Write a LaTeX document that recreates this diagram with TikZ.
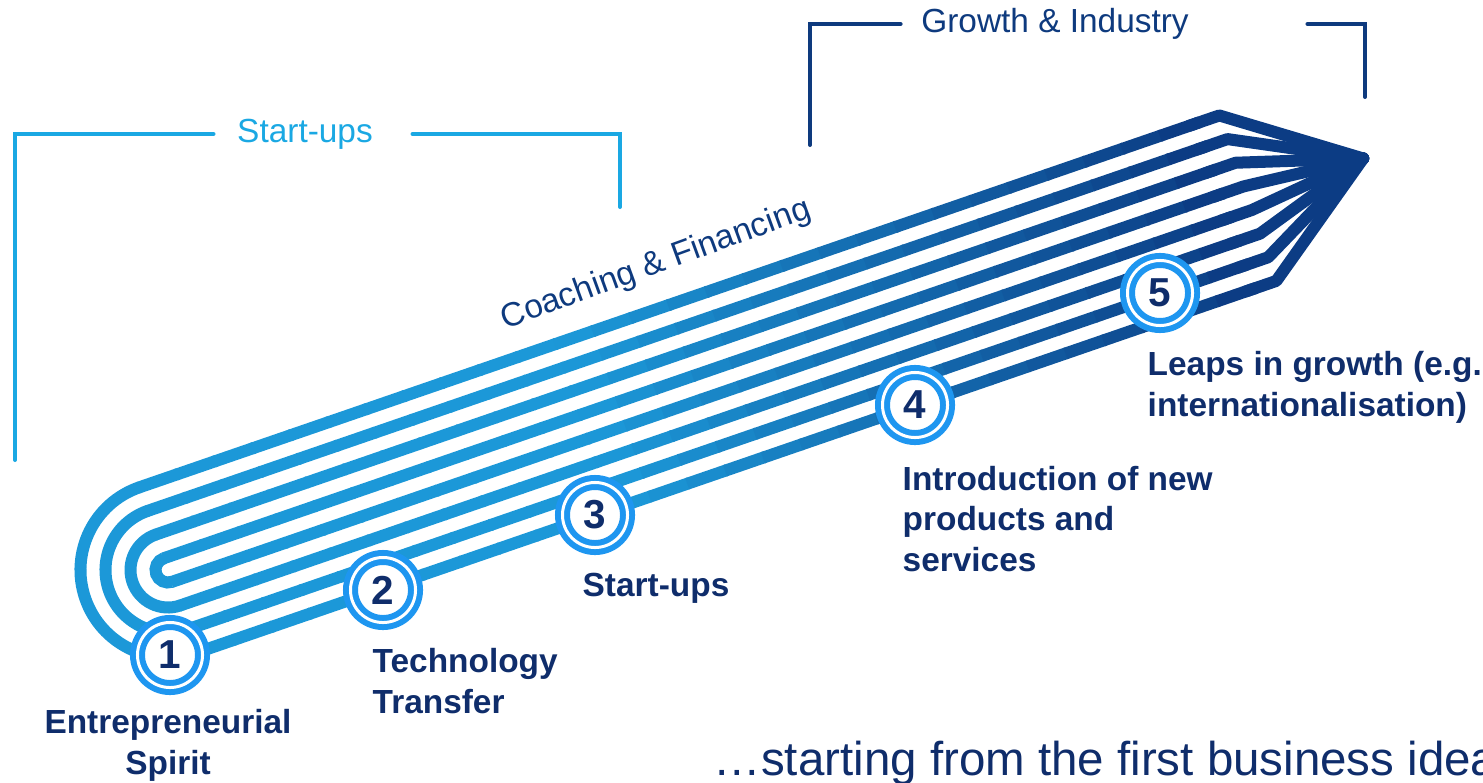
\documentclass[tikz,border=0pt]{standalone}
\usepackage{fontspec}
\setmainfont{Liberation Sans}
\definecolor{lightline}{HTML}{1C98D8}
\definecolor{navyline}{HTML}{0C3C84}
\definecolor{ringblue}{HTML}{1E96F0}
\definecolor{labeltext}{HTML}{0F2D6B}
\definecolor{cyanline}{HTML}{1AA8E3}
\definecolor{growthline}{HTML}{0E3A7E}

\begin{document}
\begin{tikzpicture}[x=0.01cm, y=-0.01cm,
        stripe/.style={line width=0.12cm, line cap=butt},
        stage/.style={circle, fill=white, draw=ringblue, double=white, double distance=0.03cm,
            line width=0.06cm, minimum size=0.65cm, inner sep=0pt, text=labeltext,
            font=\fontsize{11.5}{13}\selectfont\bfseries},
        caption/.style={text=labeltext, align=left, inner sep=0pt,
            font=\fontsize{9.5}{11.6}\selectfont\bfseries},
        bracket/.style={line width=0.04cm, line cap=round},
        bracketlabel/.style={inner sep=0pt, font=\fontsize{9.5}{11.4}\selectfont}]
            \useasboundingbox (0,0) rectangle (1483,782);
            \clip (0,0) rectangle (1483,782);

            \coordinate (su-l) at (15,460);
            \coordinate (su-r) at (620,207);
            \node[bracketlabel, text=cyanline] (su) at (305,134) {Start-ups};
            \draw[bracket, cyanline] (su-l) |- ([xshift=-0.23cm]su.west);
            \draw[bracket, cyanline] ([xshift=0.39cm]su.east) -| (su-r);

            \coordinate (gi-l) at (810,145);
            \coordinate (gi-r) at (1365,97);
            \node[bracketlabel, text=growthline] (gi) at (1055,24) {Growth \& Industry};
            \draw[bracket, growthline] (gi-l) |- ([xshift=-0.2cm]gi.west);
            \draw[bracket, growthline] ([xshift=1.18cm]gi.east) -| (gi-r);

            \node[bracketlabel, text=growthline, rotate=20] (cf) at (656,265) {Coaching \& Financing};

            \begin{scope}[shift={(168,570)}, rotate=19]
                \foreach \k in {1,...,4} {
                    \pgfmathsetmacro\r{(4.5-\k)*25}
                    \draw[stripe, lightline] (0,-\r) arc[start angle=270, end angle=90, radius=\r];
                }
                \foreach \k in {1,...,8} {
                    \pgfmathsetmacro\yk{(\k-4.5)*25}
                    \foreach \i in {0,...,27} {
                        \pgfmathtruncatemacro\p{max(0,min(100,(\i*40+20-450)/6.5))}
                        \draw[stripe, navyline!\p!lightline] (\i*40-1,\yk) -- (\i*40+41,\yk);
                    }
                    \draw[stripe, navyline, line join=round, line cap=round] (1110,\yk) -- (1142,\yk) -- (1264,0);
                }
            \end{scope}

            \node[stage] (s1) at (170,655) {1};
            \node[stage] (s2) at (383,590) {2};
            \node[stage] (s3) at (595,515) {3};
            \node[stage] (s4) at (915,405) {4};
            \node[stage] (s5) at (1160,293) {5};

            \node[caption, align=center] (l1) at (168,745) {Entrepreneurial\\Spirit};
            \node[caption, anchor=west] (l2) at (372,681) {Technology\\Transfer};
            \node[caption, anchor=west] (l3) at (582,588) {Start-ups};
            \node[caption, anchor=west] (l4) at (902,519) {Introduction of new\\products and\\services};
            \node[caption, anchor=west] (l5) at (1147,387) {Leaps in growth (e.g.\\internationalisation)};

            \node[inner sep=0pt, anchor=west, text=labeltext, font=\fontsize{13.5}{16}\selectfont] (idea) at (713,763) {…starting from the first business idea};
        \end{tikzpicture}
\end{document}
